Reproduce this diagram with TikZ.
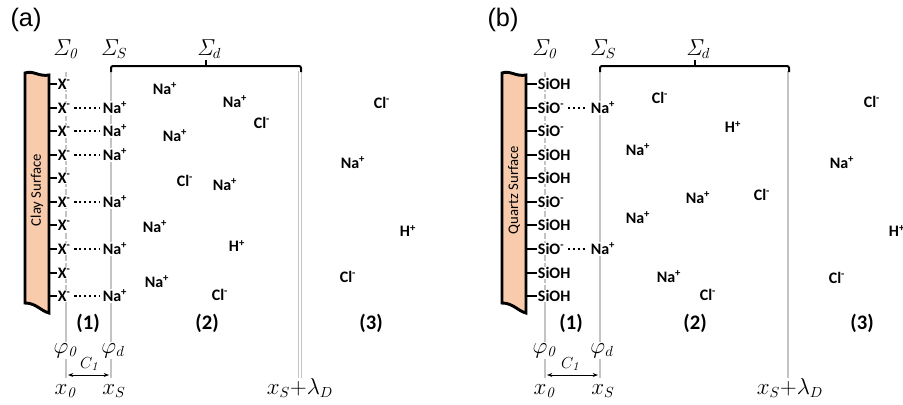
\documentclass[tikz,border=0pt]{standalone}
\usepackage[no-math]{fontspec}
\setmainfont{Carlito}
\newfontfamily\panelfont{Liberation Sans}
\usetikzlibrary{arrows.meta}

\definecolor{surfpeach}{RGB}{248,203,173}
\definecolor{linegray}{RGB}{196,196,196}

\tikzset{
  ion/.style={font=\bfseries\fontsize{12}{14}\selectfont, inner sep=0.5pt, fill=white},
  site/.style={ion, anchor=west},
  region/.style={font=\bfseries\fontsize{15.5}{18}\selectfont},
  sym/.style={font=\fontsize{16}{18}\selectfont, inner sep=1pt, anchor=base},
  panel/.style={font=\panelfont\fontsize{19}{22}\selectfont},
  plane/.style={linegray, line width=2.2pt},
  dplane/.style={linegray, line width=1.6pt, dash pattern=on 4pt off 1.5pt},
  tickline/.style={line width=2pt},
  pairing/.style={line width=1.7pt, dotted, shorten <=2pt, shorten >=2pt},
  bracket/.style={line width=1.5pt, rounded corners=1.5pt},
  surf/.style={fill=surfpeach, draw=black, line width=2.2pt},
  capline/.style={{Stealth[length=4pt]}-{Stealth[length=4pt]}, line width=0.6pt},
}

\begin{document}
\begin{tikzpicture}[x=0.75pt, y=-0.75pt]
  \useasboundingbox (0,0) rectangle (903,404);

  % ---------------- (a) clay ----------------
  \node[panel] (labA) at (26,20) {(a)};
  % planes
  \draw[dplane] (66,72) -- (66,300);
  \draw[plane] (66,300) -- (66,378);
  \draw[plane] (111,71) -- (111,378);
  \draw[linegray, double=white, double distance=0.8pt, line width=0.8pt] (300,71) -- (300,378);
  \draw[bracket] (111,72) -- (111,66) -- (301,66) -- (301,72);
  \draw[bracket] (206,66) -- (206,60);
  % surface
  \draw[surf] (25,73) .. controls (33,70) and (39,77) .. (49,75) -- (49,313)
        .. controls (41,311) and (36,303) .. (25,303) -- cycle;
  \node[rotate=90, font=\fontsize{11}{13}\selectfont] (surfA) at (37,190) {Clay Surface};
  \coordinate (edgeA) at (49,0);
  % sites
  \node[site] (xA1) at (57,84) {X\textsuperscript{-}};
  \node[site] (xA2) at (57,108) {X\textsuperscript{-}};
  \node[site] (xA3) at (57,131) {X\textsuperscript{-}};
  \node[site] (xA4) at (57,155) {X\textsuperscript{-}};
  \node[site] (xA5) at (57,178) {X\textsuperscript{-}};
  \node[site] (xA6) at (57,202) {X\textsuperscript{-}};
  \node[site] (xA7) at (57,225) {X\textsuperscript{-}};
  \node[site] (xA8) at (57,249) {X\textsuperscript{-}};
  \node[site] (xA9) at (57,273) {X\textsuperscript{-}};
  \node[site] (xA10) at (57,296) {X\textsuperscript{-}};
  \foreach \i in {1,...,10}
    \draw[tickline] (edgeA |- xA\i) -- (xA\i.west);
  % Stern layer
  \node[ion] (nsA2) at (115,108) {Na\textsuperscript{+}};
  \node[ion] (nsA3) at (115,131) {Na\textsuperscript{+}};
  \node[ion] (nsA4) at (115,155) {Na\textsuperscript{+}};
  \node[ion] (nsA6) at (115,202) {Na\textsuperscript{+}};
  \node[ion] (nsA8) at (115,249) {Na\textsuperscript{+}};
  \node[ion] (nsA10) at (115,296) {Na\textsuperscript{+}};
  \foreach \i in {2,3,4,6,8,10}
    \draw[pairing] (xA\i) -- (nsA\i);
  % diffuse layer and bulk
  \node[ion] (naA1) at (165,89) {Na\textsuperscript{+}};
  \node[ion] (naA2) at (235,102) {Na\textsuperscript{+}};
  \node[ion] (clA1) at (262,123) {Cl\textsuperscript{-}};
  \node[ion] (naA3) at (175,136) {Na\textsuperscript{+}};
  \node[ion] (clA2) at (185,181) {Cl\textsuperscript{-}};
  \node[ion] (naA4) at (225,185) {Na\textsuperscript{+}};
  \node[ion] (naA5) at (155,227) {Na\textsuperscript{+}};
  \node[ion] (hA1) at (237,246) {H\textsuperscript{+}};
  \node[ion] (naA6) at (157,282) {Na\textsuperscript{+}};
  \node[ion] (clA3) at (220,295) {Cl\textsuperscript{-}};
  \node[ion] (clA4) at (382,103) {Cl\textsuperscript{-}};
  \node[ion] (naA7) at (353,163) {Na\textsuperscript{+}};
  \node[ion] (hA2) at (408,231) {H\textsuperscript{+}};
  \node[ion] (clA5) at (348,277) {Cl\textsuperscript{-}};
  % labels
  \node[sym] (sgA0) at (66,55) {$\mathit{\Sigma}_{\mathit{0}}$};
  \node[sym] (sgAS) at (114,55) {$\mathit{\Sigma}_S$};
  \node[sym] (sgAd) at (209,55) {$\mathit{\Sigma}_d$};
  \node[region] (rA1) at (88,323) {(1)};
  \node[region] (rA2) at (207,323) {(2)};
  \node[region] (rA3) at (371,323) {(3)};
  \node[sym, fill=white] (phA0) at (66,353) {$\varphi_{\mathit{0}}$};
  \node[sym, fill=white] (phAd) at (113,353) {$\varphi_d$};
  \node[font=\fontsize{12.5}{14}\selectfont, anchor=base] (cA) at (90,368) {$C_{\mathit{1}}$};
  \coordinate (capA0) at (68,375);
  \coordinate (capAS) at (109,375);
  \draw[capline] (capA0) -- (capAS);
  \node[sym] (xlA0) at (66,394) {$x_{\mathit{0}}$};
  \node[sym] (xlAS) at (114,394) {$x_S$};
  \node[sym] (xlAD) at (300,394) {$x_S{+}\lambda_D$};

  % ---------------- (b) quartz ----------------
  \node[panel] (labB) at (503,20) {(b)};
  % planes
  \draw[dplane] (545,72) -- (545,300);
  \draw[plane] (545,300) -- (545,378);
  \draw[plane] (600,71) -- (600,378);
  \draw[plane] (788,71) -- (788,378);
  \draw[bracket] (600,72) -- (600,66) -- (789,66) -- (789,72);
  \draw[bracket] (695,66) -- (695,60);
  % surface
  \draw[surf] (502,73) .. controls (510,70) and (516,77) .. (526,75) -- (526,313)
        .. controls (518,311) and (513,303) .. (502,303) -- cycle;
  \node[rotate=90, font=\fontsize{11}{13}\selectfont] (surfB) at (514,190) {Quartz Surface};
  \coordinate (edgeB) at (526,0);
  % sites
  \node[site] (sB1) at (537,84) {SiOH};
  \node[site] (sB2) at (537,108) {SiO\textsuperscript{-}};
  \node[site] (sB3) at (537,131) {SiO\textsuperscript{-}};
  \node[site] (sB4) at (537,155) {SiOH};
  \node[site] (sB5) at (537,178) {SiOH};
  \node[site] (sB6) at (537,202) {SiO\textsuperscript{-}};
  \node[site] (sB7) at (537,225) {SiOH};
  \node[site] (sB8) at (537,249) {SiO\textsuperscript{-}};
  \node[site] (sB9) at (537,273) {SiOH};
  \node[site] (sB10) at (537,296) {SiOH};
  \foreach \i in {1,...,10}
    \draw[tickline] (edgeB |- sB\i) -- (sB\i.west);
  % Stern layer
  \node[ion] (nsB2) at (603,108) {Na\textsuperscript{+}};
  \node[ion] (nsB8) at (603,249) {Na\textsuperscript{+}};
  \draw[pairing] (sB2) -- (nsB2);
  \draw[pairing] (sB8) -- (nsB8);
  % diffuse layer and bulk
  \node[ion] (clB1) at (660,98) {Cl\textsuperscript{-}};
  \node[ion] (hB1) at (733,127) {H\textsuperscript{+}};
  \node[ion] (naB1) at (638,150) {Na\textsuperscript{+}};
  \node[ion] (naB2) at (698,198) {Na\textsuperscript{+}};
  \node[ion] (clB2) at (762,195) {Cl\textsuperscript{-}};
  \node[ion] (naB3) at (638,218) {Na\textsuperscript{+}};
  \node[ion] (naB4) at (669,277) {Na\textsuperscript{+}};
  \node[ion] (clB3) at (708,295) {Cl\textsuperscript{-}};
  \node[ion] (clB4) at (872,102) {Cl\textsuperscript{-}};
  \node[ion] (naB5) at (842,163) {Na\textsuperscript{+}};
  \node[ion] (hB2) at (897,231) {H\textsuperscript{+}};
  \node[ion] (clB5) at (837,278) {Cl\textsuperscript{-}};
  % labels
  \node[sym] (sgB0) at (545,55) {$\mathit{\Sigma}_{\mathit{0}}$};
  \node[sym] (sgBS) at (603,55) {$\mathit{\Sigma}_S$};
  \node[sym] (sgBd) at (698,55) {$\mathit{\Sigma}_d$};
  \node[region] (rB1) at (571,323) {(1)};
  \node[region] (rB2) at (695,323) {(2)};
  \node[region] (rB3) at (862,323) {(3)};
  \node[sym, fill=white] (phB0) at (545,353) {$\varphi_{\mathit{0}}$};
  \node[sym, fill=white] (phBd) at (602,353) {$\varphi_d$};
  \node[font=\fontsize{12.5}{14}\selectfont, anchor=base] (cB) at (571,368) {$C_{\mathit{1}}$};
  \coordinate (capB0) at (547,375);
  \coordinate (capBS) at (598,375);
  \draw[capline] (capB0) -- (capBS);
  \node[sym] (xlB0) at (545,394) {$x_{\mathit{0}}$};
  \node[sym] (xlBS) at (603,394) {$x_S$};
  \node[sym] (xlBD) at (790,394) {$x_S{+}\lambda_D$};
\end{tikzpicture}
\end{document}
